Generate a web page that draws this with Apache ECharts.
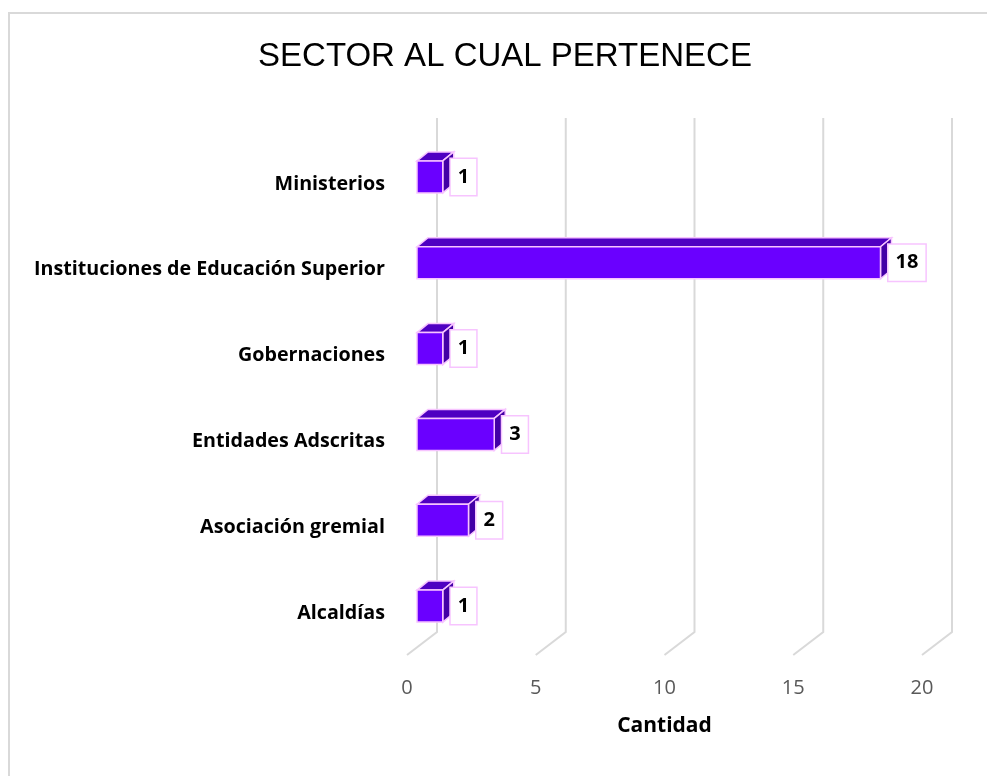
<!DOCTYPE html>
<html>
<head>
<meta charset="utf-8">
<script src="https://cdn.jsdelivr.net/npm/echarts@6/dist/echarts.min.js"></script>
<style>
    html, body { margin: 0; padding: 0; background: #fff; }
    #chart { width: 987px; height: 776px; }
</style>
</head>
<body>
<div id="chart"></div>
<script>
    // datos
    var categorias = ['Ministerios', 'Instituciones de Educación Superior', 'Gobernaciones', 'Entidades Adscritas', 'Asociación gremial', 'Alcaldías'];
    var cantidades = [1, 18, 1, 3, 2, 1];
    var ticks = [0, 5, 10, 15, 20];

    var chart = echarts.init(document.getElementById('chart'));

    // lineas de fondo (pared + piso en perspectiva)
    function renderGrid(params, api) {
        var x = api.coord([api.value(0), 0])[0];
        return {
            type: 'polyline',
            shape: { points: [[x + 30, 118], [x + 30, 632], [x, 655]] },
            style: { stroke: '#d9d9d9', lineWidth: 2, fill: null },
            silent: true
        };
    }

    // barras tipo cubo
    function renderBar(params, api) {
        var i = api.value(0);
        var v = api.value(1);
        var p0 = api.coord([0, i]);
        var p1 = api.coord([v, i]);
        var x0 = p0[0] + 10, x1 = p1[0] + 10, yc = p0[1];
        var top = yc - 23, bot = yc + 9;
        var dx = 11, dy = -9;
        var borde = '#f7c4ff';
        return {
            type: 'group',
            children: [
                {
                    type: 'polygon',
                    shape: { points: [[x0, top], [x0 + dx, top + dy], [x1 + dx, top + dy], [x1, top]] },
                    style: { fill: '#4f00c2', stroke: borde, lineWidth: 1.5 }
                },
                {
                    type: 'polygon',
                    shape: { points: [[x1, top], [x1 + dx, top + dy], [x1 + dx, bot + dy], [x1, bot]] },
                    style: { fill: '#4300a6', stroke: borde, lineWidth: 1.5 }
                },
                {
                    type: 'polygon',
                    shape: { points: [[x0, top], [x1, top], [x1, bot], [x0, bot]] },
                    style: { fill: '#6a00ff', stroke: borde, lineWidth: 1.5 }
                },
                {
                    type: 'text',
                    style: {
                        x: x1 + 8, y: yc - 7,
                        text: String(v),
                        align: 'left', verticalAlign: 'middle',
                        font: 'bold 20px "Open Sans"',
                        fill: '#000',
                        backgroundColor: '#fff',
                        borderColor: borde, borderWidth: 1.5,
                        padding: [8, 7, 8, 7]
                    }
                }
            ]
        };
    }

    var option = {
        backgroundColor: '#fff',
        animation: false,
        graphic: [
            {
                type: 'rect',
                shape: { x: 9, y: 13, width: 1000, height: 800 },
                style: { fill: null, stroke: '#d9d9d9', lineWidth: 2 },
                silent: true
            },
            {
                type: 'text',
                style: {
                    x: 505, y: 57,
                    text: 'SECTOR AL CUAL PERTENECE',
                    align: 'center', verticalAlign: 'middle',
                    font: '33px "Liberation Sans"',
                    fill: '#000'
                }
            }
        ],
        grid: { left: 407, right: 65, top: 141, bottom: 120 },
        xAxis: {
            type: 'value',
            min: 0, max: 20, interval: 5,
            name: 'Cantidad',
            nameLocation: 'middle',
            nameGap: 60,
            nameTextStyle: { fontFamily: 'Open Sans', fontWeight: 'bold', fontSize: 21, color: '#000' },
            axisLine: { show: false },
            axisTick: { show: false },
            splitLine: { show: false },
            axisLabel: { fontFamily: 'Open Sans', fontSize: 20, color: '#595959', margin: 22 }
        },
        yAxis: {
            type: 'category',
            inverse: true,
            data: categorias,
            axisLine: { show: false },
            axisTick: { show: false },
            axisLabel: { fontFamily: 'Open Sans', fontWeight: 'bold', fontSize: 19.7, color: '#000', margin: 22 }
        },
        series: [
            {
                type: 'custom',
                renderItem: renderGrid,
                data: ticks.map(function (t) { return [t, 0]; }),
                encode: { x: 0, y: 1 },
                z: 1
            },
            {
                type: 'custom',
                renderItem: renderBar,
                data: cantidades.map(function (v, i) { return [i, v]; }),
                encode: { x: 1, y: 0 },
                z: 2
            }
        ]
    };

    chart.setOption(option);
</script>
</body>
</html>
